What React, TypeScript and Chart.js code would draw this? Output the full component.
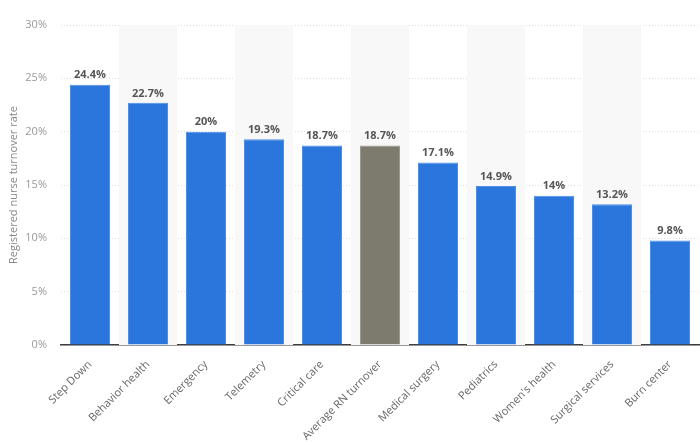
import React, { useEffect, useRef } from "react";
import { Chart, registerables } from "chart.js";

Chart.register(...registerables);

const categories = [
  "Step Down",
  "Behavior health",
  "Emergency",
  "Telemetry",
  "Critical care",
  "Average RN turnover",
  "Medical surgery",
  "Pediatrics",
  "Women's health",
  "Surgical services",
  "Burn center",
];
const values = [24.4, 22.7, 20, 19.3, 18.7, 18.7, 17.1, 14.9, 14, 13.2, 9.8];
const highlightIndex = 5;
const yTicks = [0, 5, 10, 15, 20, 25, 30];
const yTitle = "Registered nurse turnover rate";

const BLUE = "#2a76dd";
const GREY = "#7c7b6e";

const stripes = {
  id: "stripes",
  beforeDatasetsDraw(chart: any) {
    const { ctx, chartArea, scales } = chart;
    const x = scales.x;
    ctx.save();
    ctx.fillStyle = "#f8f8f8";
    for (let i = 1; i < categories.length; i += 2) {
      const c = x.getPixelForValue(i);
      const w = x.width / categories.length;
      ctx.fillRect(c - w / 2, chartArea.top, w, chartArea.bottom - chartArea.top);
    }
    ctx.restore();
  },
};

const labelsPlugin = {
  id: "barLabels",
  afterDatasetsDraw(chart: any) {
    const { ctx } = chart;
    const meta = chart.getDatasetMeta(0);
    ctx.save();
    ctx.font = "bold 11px 'Open Sans', sans-serif";
    ctx.fillStyle = "#555555";
    ctx.textAlign = "center";
    ctx.textBaseline = "bottom";
    meta.data.forEach((bar: any, i: number) => {
      ctx.fillText(values[i] + "%", bar.x, bar.y - 4);
    });
    ctx.restore();
  },
};

export default function App() {
  const ref = useRef<HTMLCanvasElement>(null);
  useEffect(() => {
    document.body.style.margin = "0";
    const chart = new Chart(ref.current!, {
      type: "bar",
      data: {
        labels: categories,
        datasets: [
          {
            data: values,
            backgroundColor: values.map((_, i) => (i === highlightIndex ? GREY : BLUE)),
            borderColor: values.map((_, i) => (i === highlightIndex ? "#9a998e" : "#4d8ee6")),
            borderWidth: { top: 1, left: 1, right: 1, bottom: 0 },
            categoryPercentage: 1,
            barPercentage: 0.69,
          },
        ],
      },
      options: {
        animation: false,
        responsive: false,
        maintainAspectRatio: false,
        layout: { padding: { top: 25, right: 1, left: 0, bottom: 0 } },
        plugins: { legend: { display: false }, tooltip: { enabled: false } },
        scales: {
          x: {
            grid: { display: false },
            border: { display: true, color: "#3c3c3c", width: 1.5 },
            ticks: {
              color: "#666666",
              font: { family: "'Open Sans', sans-serif", size: 11 },
              minRotation: 45,
              maxRotation: 45,
              padding: 5,
              autoSkip: false,
            },
            afterFit(scale: any) {
              scale.height = 100;
            },
          },
          y: {
            min: 0,
            max: 30,
            afterBuildTicks(scale: any) {
              scale.ticks = yTicks.map((v) => ({ value: v }));
            },
            border: { display: false, dash: [1, 2] },
            grid: {
              color: "#dddddd",
              drawTicks: false,
            },
            ticks: {
              color: "#999999",
              padding: 14,
              font: { family: "'Open Sans', sans-serif", size: 11 },
              callback: (v: any) => v + "%",
            },
            title: {
              display: true,
              text: yTitle,
              color: "#888888",
              font: { family: "'Open Sans', sans-serif", size: 11 },
              padding: { top: 7, bottom: 0 },
            },
            afterFit(scale: any) {
              scale.width = 61;
            },
          },
        },
      },
      plugins: [stripes, labelsPlugin],
    });
    return () => chart.destroy();
  }, []);
  return (
    <div style={{ width: 700, height: 445 }}>
      <canvas ref={ref} width={700} height={445} style={{ display: "block" }} />
    </div>
  );
}
